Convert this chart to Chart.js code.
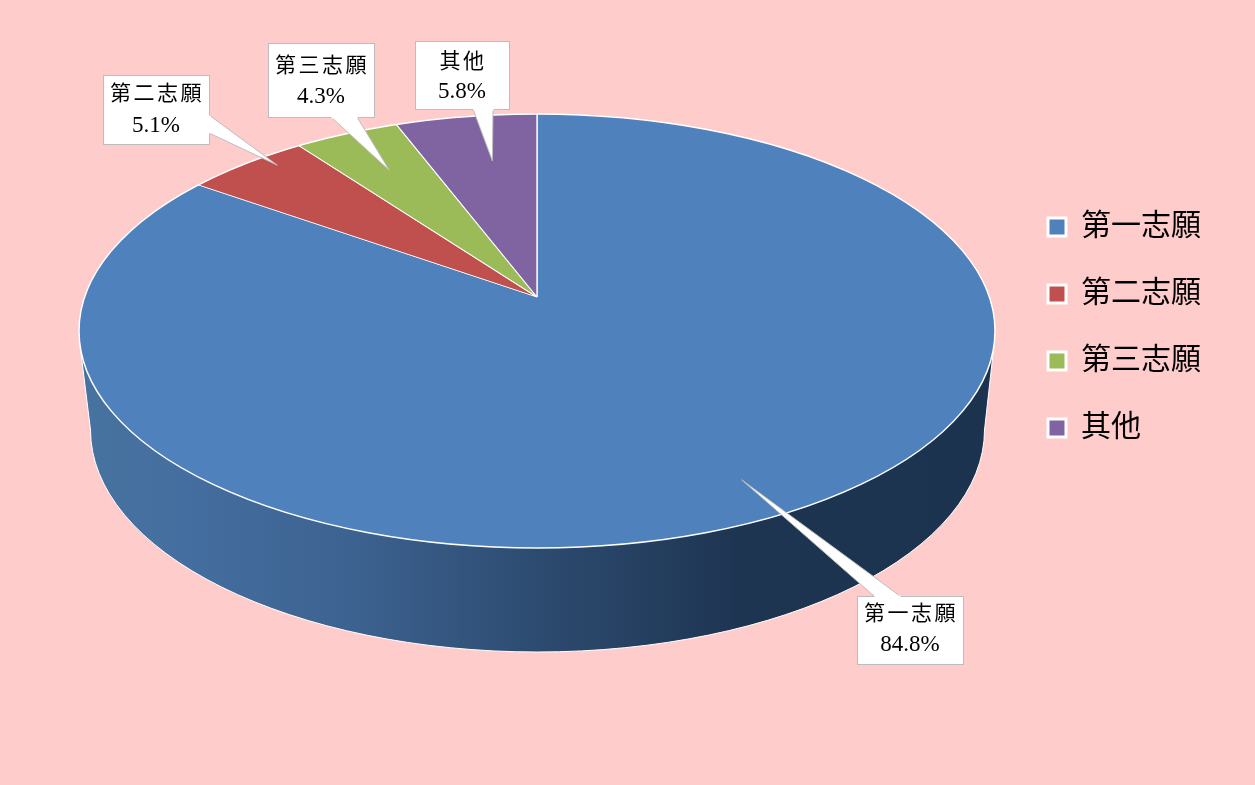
<!DOCTYPE html>
<html>
<head>
<meta charset="utf-8">
<script src="https://cdn.jsdelivr.net/npm/chart.js@4"></script>
<style>
html,body{margin:0;padding:0;background:#FFCCCC;}
canvas{display:block;}
</style>
</head>
<body>
<canvas id="c" width="1255" height="785"></canvas>
<script>
const categories = ['第一志願', '第二志願', '第三志願', '其他'];
const shares = [84.8, 5.1, 4.3, 5.8];
const sliceColors = ['#4F81BD', '#C0504D', '#9BBB59', '#8064A2'];

// 3D projection settings of the decorated pie
const apex = {x: 537, y: 297};
const tilt = 0.468;
const topFace = {x: 537, y: 331, rx: 458, ry: 217};
const bottomFace = {x: 537.5, y: 430, rx: 447, ry: 222};
const drawnRadius = 620;

// callout placement for each category
const callouts = [
  {box: [857, 596, 106, 68], side: 'top', base: [874, 900], tipR: 441, tipDa: -0.005, rows: [-16, 15]},
  {box: [103, 75, 106, 69], side: 'right', base: [115, 133], tipR: 383, tipDa: 0.05, rows: [-15, 16]},
  {box: [268, 43, 106, 74], side: 'bottom', base: [331, 357], tipR: 308, tipDa: 0, rows: [-14, 17]},
  {box: [415, 41, 94, 68], side: 'bottom', base: [473, 493], tipR: 294, tipDa: 0.03, rows: [-13, 17]}
];

const CJK = '"Liberation Serif","Noto Sans CJK TC"';

function ellipsePath(ctx, e) {
  ctx.beginPath();
  ctx.ellipse(e.x, e.y, e.rx, e.ry, 0, 0, Math.PI * 2);
}

function drawWall(ctx) {
  const b = bottomFace, t = topFace;
  const g = ctx.createLinearGradient(t.x - t.rx, 0, t.x + t.rx, 0);
  g.addColorStop(0, '#47739F');
  g.addColorStop(0.12, '#446E9F');
  g.addColorStop(0.3, '#3C6290');
  g.addColorStop(0.5, '#2D4B70');
  g.addColorStop(0.72, '#1E3552');
  g.addColorStop(1, '#1C3350');
  ctx.save();
  ctx.beginPath();
  ctx.moveTo(t.x - t.rx + 1, t.y + 14);
  ctx.lineTo(b.x - b.rx, b.y);
  ctx.ellipse(b.x, b.y, b.rx, b.ry, 0, Math.PI, 0, true);
  ctx.lineTo(t.x + t.rx - 1, t.y + 14);
  ctx.closePath();
  ctx.fillStyle = g;
  ctx.fill();
  ctx.strokeStyle = '#FFFFFF';
  ctx.lineWidth = 1;
  ctx.stroke();
  ctx.restore();
}

function drawCallout(ctx, arc, cfg, i) {
  const mid = (arc.startAngle + arc.endAngle) / 2 + cfg.tipDa;
  const tip = {
    x: apex.x + Math.cos(mid) * cfg.tipR,
    y: apex.y + Math.sin(mid) * cfg.tipR * tilt
  };
  const [x, y, w, h] = cfg.box;
  let p1, p2;
  if (cfg.side === 'top') { p1 = [cfg.base[0], y]; p2 = [cfg.base[1], y]; }
  if (cfg.side === 'bottom') { p1 = [cfg.base[0], y + h]; p2 = [cfg.base[1], y + h]; }
  if (cfg.side === 'right') { p1 = [x + w, cfg.base[0]]; p2 = [x + w, cfg.base[1]]; }
  ctx.save();
  ctx.lineWidth = 1;
  ctx.strokeStyle = '#BDBDBD';
  ctx.fillStyle = '#FFFFFF';
  ctx.fillRect(x, y, w, h);
  ctx.strokeRect(x + 0.5, y + 0.5, w, h);
  ctx.beginPath();
  ctx.moveTo(p1[0], p1[1]);
  ctx.lineTo(tip.x, tip.y);
  ctx.lineTo(p2[0], p2[1]);
  ctx.closePath();
  ctx.fill();
  ctx.beginPath();
  ctx.moveTo(p1[0], p1[1]);
  ctx.lineTo(tip.x, tip.y);
  ctx.lineTo(p2[0], p2[1]);
  ctx.stroke();
  ctx.beginPath();
  ctx.moveTo(p1[0] + 0.5, p1[1] + 0.5);
  ctx.lineTo(p2[0] + 0.5, p2[1] + 0.5);
  ctx.strokeStyle = '#FFFFFF';
  ctx.lineWidth = 2;
  ctx.stroke();
  ctx.fillStyle = '#000000';
  ctx.textAlign = 'center';
  ctx.textBaseline = 'middle';
  const cx = x + w / 2, cy = y + h / 2;
  ctx.font = '21px ' + CJK;
  ctx.letterSpacing = '2.5px';
  ctx.fillText(categories[i], cx + 1, cy + cfg.rows[0]);
  ctx.letterSpacing = '0px';
  ctx.font = '23px ' + CJK;
  ctx.fillText(shares[i].toFixed(1) + '%', cx, cy + cfg.rows[1]);
  ctx.restore();
}

const pie3d = {
  id: 'pie3d',
  beforeDatasetsDraw(chart) {
    const ctx = chart.ctx;
    drawWall(ctx);
    const arc = chart.getDatasetMeta(0).data[0];
    const s = drawnRadius / arc.outerRadius;
    ctx.save();
    ellipsePath(ctx, topFace);
    ctx.clip();
    ctx.translate(apex.x, apex.y);
    ctx.scale(s, s * tilt);
    ctx.translate(-arc.x, -arc.y);
  },
  afterDatasetsDraw(chart) {
    const ctx = chart.ctx;
    ctx.restore();
    ctx.save();
    ellipsePath(ctx, topFace);
    ctx.strokeStyle = '#FFFFFF';
    ctx.lineWidth = 1.5;
    ctx.stroke();
    ctx.restore();
    const arcs = chart.getDatasetMeta(0).data;
    callouts.forEach((cfg, i) => drawCallout(ctx, arcs[i], cfg, i));
  }
};

new Chart(document.getElementById('c'), {
  type: 'pie',
  data: {
    labels: categories,
    datasets: [{
      data: shares,
      backgroundColor: sliceColors,
      borderColor: '#FFFFFF',
      borderWidth: 0.7,
      clip: false
    }]
  },
  options: {
    responsive: false,
    animation: false,
    layout: {padding: {bottom: 130, right: 44}},
    plugins: {
      tooltip: {enabled: false},
      legend: {
        position: 'right',
        align: 'center',
        labels: {
          boxWidth: 18,
          boxHeight: 18,
          padding: 37,
          color: '#000000',
          font: {family: CJK, size: 30},
          generateLabels(chart) {
            return categories.map((text, i) => ({
              text,
              fillStyle: sliceColors[i],
              strokeStyle: '#FFFFFF',
              lineWidth: 3,
              hidden: false,
              index: i
            }));
          }
        }
      }
    }
  },
  plugins: [pie3d]
});
</script>
</body>
</html>
